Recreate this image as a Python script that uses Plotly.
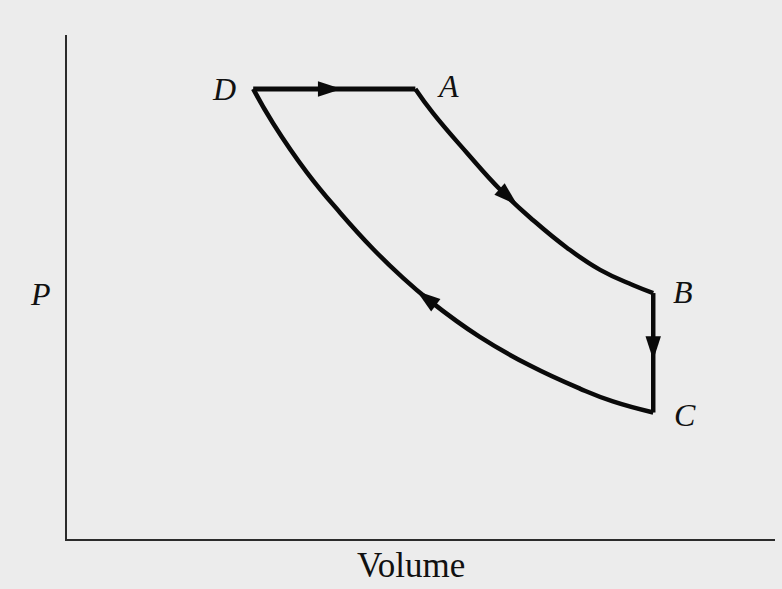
import plotly.graph_objects as go

# cycle corners (V, P), arbitrary units
corner_names = ["D", "A", "B", "C"]
corner_v = [2.63, 4.92, 8.28, 8.28]
corner_p = [8.93, 8.93, 4.88, 2.51]

# expansion A -> B
v_ab = [4.92, 5.17, 5.65, 6.12, 6.58, 7.06, 7.53, 7.99, 8.28]
p_ab = [8.93, 8.45, 7.66, 6.93, 6.33, 5.78, 5.34, 5.04, 4.88]

# compression C -> D
v_cd = [8.28, 7.71, 7.25, 6.54, 5.83, 5.13, 4.70, 4.32, 3.86, 3.39, 2.91, 2.63]
p_cd = [2.51, 2.73, 2.98, 3.44, 4.01, 4.72, 5.24, 5.76, 6.47, 7.27, 8.25, 8.93]

# arrowheads: tip position and a point just behind it (sets direction)
arrow_tip_v = [3.88, 6.36, 8.28, 4.94]
arrow_tip_p = [8.93, 6.63, 3.55, 4.92]
arrow_from_v = [2.63, 6.12, 8.28, 5.13]
arrow_from_p = [8.93, 6.93, 4.88, 4.72]

ink = "#0a0a0a"
paper = "#ececec"

fig = go.Figure()

# D -> A (constant pressure)
fig.add_trace(go.Scatter(
    x=corner_v[0:2], y=corner_p[0:2], mode="lines",
    line=dict(color=ink, width=5), showlegend=False, hoverinfo="skip",
))
# A -> B
fig.add_trace(go.Scatter(
    x=v_ab, y=p_ab, mode="lines",
    line=dict(color=ink, width=4.5, shape="spline", smoothing=1.3),
    showlegend=False, hoverinfo="skip",
))
# B -> C (constant volume)
fig.add_trace(go.Scatter(
    x=corner_v[2:4], y=corner_p[2:4], mode="lines",
    line=dict(color=ink, width=4.5), showlegend=False, hoverinfo="skip",
))
# C -> D
fig.add_trace(go.Scatter(
    x=v_cd, y=p_cd, mode="lines",
    line=dict(color=ink, width=4.5, shape="spline", smoothing=1.3),
    showlegend=False, hoverinfo="skip",
))

for fv, fp, tv, tp in zip(arrow_from_v, arrow_from_p, arrow_tip_v, arrow_tip_p):
    fig.add_trace(go.Scatter(
        x=[fv, tv], y=[fp, tp], mode="markers",
        marker=dict(symbol="arrow", size=[0, 25], opacity=[0, 1],
                    angleref="previous", color=ink, line=dict(width=0)),
        showlegend=False, hoverinfo="skip",
    ))

# corner labels
label_shift = {"D": (-29, 0), "A": (33, 3), "B": (30, 1), "C": (32, -2)}
serif = "Liberation Serif"
for name, v, p in zip(corner_names, corner_v, corner_p):
    dx, dy = label_shift[name]
    fig.add_annotation(
        x=v, y=p, text=f"<i>{name}</i>", showarrow=False,
        xshift=dx, yshift=dy, xanchor="center", yanchor="middle",
        font=dict(family=serif, size=32, color="#111"),
    )

fig.add_annotation(
    x=-0.038, y=0.486, xref="paper", yref="paper", text="<i>P</i>",
    showarrow=False, xanchor="center", yanchor="middle",
    font=dict(family=serif, size=32, color="#111"),
)
fig.add_annotation(
    x=0.486, y=-0.052, xref="paper", yref="paper", text="Volume",
    showarrow=False, xanchor="center", yanchor="middle",
    font=dict(family=serif, size=35, color="#111"),
)

axis_style = dict(
    showline=True, linecolor="#2b2b2b", linewidth=2,
    showgrid=False, zeroline=False, showticklabels=False, ticks="",
    fixedrange=True,
)
fig.update_layout(
    width=782, height=589,
    margin=dict(l=67, r=7, t=35, b=50),
    paper_bgcolor=paper, plot_bgcolor=paper,
    xaxis=dict(range=[0, 10], **axis_style),
    yaxis=dict(range=[0, 10], **axis_style),
)

fig.write_html(
    "out.html",
    config={"displayModeBar": False},
    post_script="document.body.style.margin='0';",
)
